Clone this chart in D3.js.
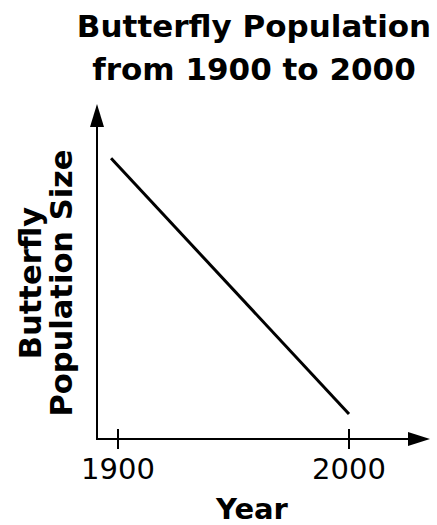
<!DOCTYPE html>
<html><head><meta charset="utf-8">
<script src="https://cdn.jsdelivr.net/npm/d3@7"></script>
<style>html,body{margin:0;padding:0;background:#fff;}</style>
</head><body>
<script>
const titleLines = ["Butterfly Population", "from 1900 to 2000"];
const yLabelLines = ["Butterfly", "Population Size"];
const xLabel = "Year";
const tickYears = [1900, 2000];
const years = [1897, 2000];
const population = [90, 8];

const W = 437, H = 525;
const svg = d3.select("body").append("svg").attr("width", W).attr("height", H);

const x = d3.scaleLinear().domain([1900, 2000]).range([118, 349]);
const y = d3.scaleLinear().domain([0, 100]).range([439, 127]);

const ax0 = 97, axEndX = 430, ay0 = 439, axEndY = 104;
const font = "DejaVu Sans, Verdana, sans-serif";

// title
svg.append("text").attr("x", 254).attr("y", 37).attr("text-anchor", "middle")
  .attr("font-family", font).attr("font-weight", "bold").attr("font-size", 31)
  .selectAll("tspan").data(titleLines).join("tspan")
  .attr("x", 254).attr("dy", (d, i) => i ? 43 : 0).text(d => d);

// axes
svg.append("line").attr("x1", ax0).attr("y1", ay0).attr("x2", axEndX - 10).attr("y2", ay0)
  .attr("stroke", "#000").attr("stroke-width", 2);
svg.append("line").attr("x1", ax0).attr("y1", ay0 + 1).attr("x2", ax0).attr("y2", axEndY + 10)
  .attr("stroke", "#000").attr("stroke-width", 2);
svg.append("path").attr("d", `M${axEndX},${ay0} L${axEndX - 22},${ay0 - 7} L${axEndX - 22},${ay0 + 7} Z`).attr("fill", "#000");
svg.append("path").attr("d", `M${ax0},${axEndY} L${ax0 - 7},${axEndY + 23} L${ax0 + 7},${axEndY + 23} Z`).attr("fill", "#000");

// ticks
const tg = svg.append("g");
tg.selectAll("line").data(tickYears).join("line")
  .attr("x1", d => x(d)).attr("x2", d => x(d)).attr("y1", ay0 - 10).attr("y2", ay0 + 10)
  .attr("stroke", "#000").attr("stroke-width", 2);
tg.selectAll("text").data(tickYears).join("text")
  .attr("x", d => x(d)).attr("y", 479).attr("text-anchor", "middle")
  .attr("font-family", font).attr("font-size", 29).text(d => d);

// data line
svg.append("path").datum(years.map((yr, i) => [yr, population[i]]))
  .attr("d", d3.line().x(d => x(d[0])).y(d => y(d[1])))
  .attr("fill", "none").attr("stroke", "#000").attr("stroke-width", 3);

// x label
svg.append("text").attr("x", 252).attr("y", 519).attr("text-anchor", "middle")
  .attr("font-family", font).attr("font-weight", "bold").attr("font-size", 29).text(xLabel);

// y label
svg.append("text").attr("transform", "translate(41,283) rotate(-90)")
  .attr("text-anchor", "middle").attr("font-family", font).attr("font-weight", "bold").attr("font-size", 30.5)
  .selectAll("tspan").data(yLabelLines).join("tspan")
  .attr("x", 0).attr("dy", (d, i) => i ? 31 : 0).text(d => d);
</script>
</body></html>
